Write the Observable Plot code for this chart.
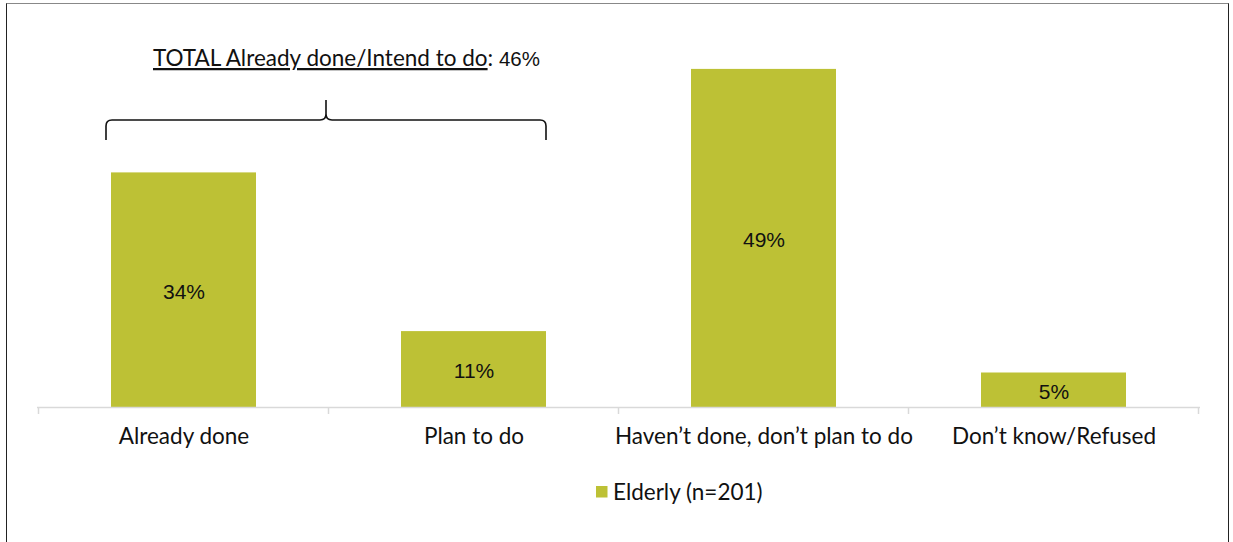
<!DOCTYPE html>
<html>
<head>
<meta charset="utf-8">
<script src="https://cdn.jsdelivr.net/npm/d3@7"></script>
<script src="https://cdn.jsdelivr.net/npm/@observablehq/plot@0.6"></script>
<style>
  html, body { margin: 0; padding: 0; background: #fff; }
  #wrap { position: relative; width: 1233px; height: 542px; overflow: hidden; }
  #frame { position: absolute; left: 6px; top: 3px; width: 1223px; height: 600px;
           border-left: 1.5px solid #222; border-right: 1.5px solid #222; border-top: 1.5px solid #888; box-sizing: border-box; }
  #chart { position: absolute; left: 0; top: 0; }
</style>
</head>
<body>
<div id="wrap"><div id="frame"></div><div id="chart"></div></div>
<script>
const categories = ["Already done", "Plan to do", "Haven’t done, don’t plan to do", "Don’t know/Refused"];
const values = [34, 11, 49, 5];
const seriesName = "Elderly (n=201)";
const totalLabel = "TOTAL Already done/Intend to do";
const totalValue = 46;

const barColor = "#BDC135";
const labelFont = "Lato, 'Open Sans', sans-serif";
const numFont = "'Liberation Sans', Arial, sans-serif";
const paddingInner = 0.5;

const data = categories.map((c, i) => ({category: c, value: values[i]}));
const svgNS = "http://www.w3.org/2000/svg";

function el(name, attrs) {
  const e = document.createElementNS(svgNS, name);
  for (const k in attrs) e.setAttribute(k, attrs[k]);
  return e;
}
function bandInfo(x) {
  const step = x(categories[1]) - x(categories[0]);
  const bw = step * (1 - paddingInner);
  return {step, bw};
}

// Band-boundary ticks (Excel style)
function boundaryTicks(index, scales, values, dimensions) {
  const g = el("g", {});
  const x = scales.x, y0 = scales.y(0);
  const {step, bw} = bandInfo(x);
  const start = x(categories[0]) - (step - bw) / 2;
  for (let i = 0; i <= categories.length; i++) {
    const xx = start + i * step;
    g.appendChild(el("line", {x1: xx, x2: xx, y1: y0, y2: y0 + 7, stroke: "#d9d9d9", "stroke-width": 1.5}));
  }
  return g;
}

// Brace over the first two categories plus total annotation
function brace(index, scales, values, dimensions) {
  const g = el("g", {});
  const x = scales.x;
  const {bw} = bandInfo(x);
  const x0 = x(categories[0]) - 5;
  const x1 = x(categories[1]) + bw;
  const xm = (x0 + x1) / 2;
  const yl = dimensions.marginTop + 58, yd = yl + 20, yu = yl - 20, r = 6;
  const d = `M${x0},${yd} L${x0},${yl + r} Q${x0},${yl} ${x0 + r},${yl} L${xm - r},${yl} Q${xm},${yl} ${xm},${yl - r} L${xm},${yu} L${xm},${yl - r} Q${xm},${yl} ${xm + r},${yl} L${x1 - r},${yl} Q${x1},${yl} ${x1},${yl + r} L${x1},${yd}`;
  g.appendChild(el("path", {d, fill: "none", stroke: "#111", "stroke-width": 1.6}));
  const t = el("text", {x: x0 + 47, y: dimensions.marginTop + 4, fill: "#111", "font-size": 22.5, "font-family": labelFont, "text-anchor": "start"});
  const t1 = el("tspan", {style: "text-decoration: underline"});
  t1.textContent = totalLabel;
  const t2 = el("tspan", {});
  t2.textContent = ":";
  const t3 = el("tspan", {"font-family": numFont, "font-size": 20.5});
  t3.textContent = " " + totalValue + "%";
  t.append(t1, t2, t3);
  g.appendChild(t);
  return g;
}

// Legend drawn inside the SVG
function legend(index, scales, values, dimensions) {
  const g = el("g", {});
  const cx = (dimensions.marginLeft + dimensions.width - dimensions.marginRight) / 2;
  const yy = dimensions.height - dimensions.marginBottom + 79;
  g.appendChild(el("rect", {x: cx - 22.5, y: yy, width: 11.5, height: 11.5, fill: barColor}));
  const t = el("text", {x: cx - 5.5, y: yy + 6, dy: "0.36em", fill: "#111", "font-size": 22.5, "font-family": labelFont, "text-anchor": "start"});
  t.textContent = seriesName;
  g.appendChild(t);
  return g;
}

const chart = Plot.plot({
  width: 1233,
  height: 542,
  marginTop: 62,
  marginBottom: 135,
  marginLeft: 37,
  marginRight: 33,
  style: {background: "transparent", color: "#111"},
  x: {domain: categories, paddingInner: paddingInner, paddingOuter: 0.25, axis: null},
  y: {domain: [0, 50], axis: null},
  marks: [
    Plot.barY(data, {x: "category", y: "value", fill: barColor}),
    Plot.ruleY([0], {stroke: "#d9d9d9", strokeWidth: 1.5}),
    boundaryTicks,
    Plot.text(data, {x: "category", y: d => d.value / 2, dy: 2, text: d => d.value + "%", fontSize: 21, fontFamily: numFont, fill: "#111"}),
    Plot.axisX({tickSize: 0, tickPadding: 21, fontSize: 22.5, fontFamily: labelFont, fill: "#111", label: null}),
    brace,
    legend
  ]
});
document.getElementById("chart").appendChild(chart);
</script>
</body>
</html>
